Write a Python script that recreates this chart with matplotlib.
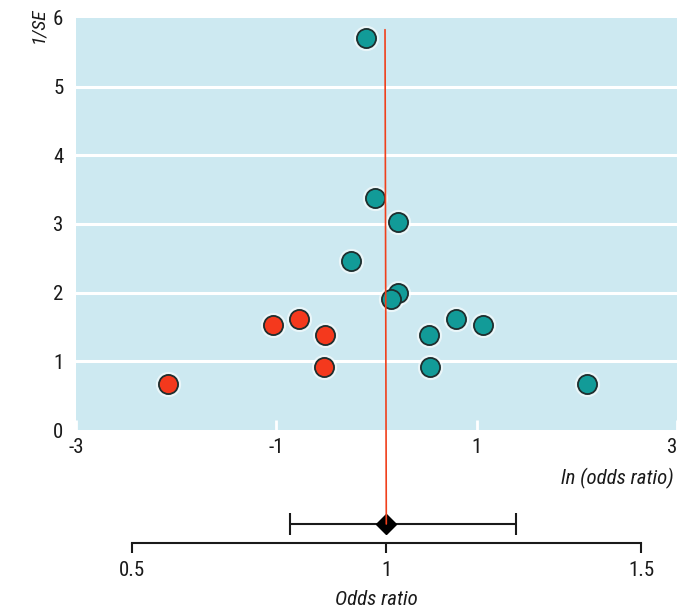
import numpy as np
import matplotlib
matplotlib.use('Agg')
import matplotlib.pyplot as plt
from matplotlib.patches import ConnectionPatch

plt.rcParams['font.family'] = ['Roboto Condensed', 'Liberation Sans Narrow', 'Roboto', 'DejaVu Sans']

#==========Funnel plot data (ln odds ratio vs 1/SE)==========
observed_ln = [-0.10, -0.01, 0.21, -0.25, 0.21, 0.14, 0.79, 1.06, 0.52, 0.53, 2.10]
observed_inv_se = [5.71, 3.38, 3.03, 2.46, 2.00, 1.91, 1.62, 1.53, 1.39, 0.92, 0.67]

filled_ln = [-2.08, -1.03, -0.77, -0.51, -0.52]
filled_inv_se = [0.67, 1.53, 1.62, 1.39, 0.92]

pooled_ln = 0.085
line_top = 5.83

#==========Pooled odds ratio with CI==========
pooled_or = 1.0
ci_low, ci_high = 0.81, 1.255

x_ticks = [-3, -1, 1, 3]
y_ticks = [0, 1, 2, 3, 4, 5, 6]
or_ticks = [0.5, 1, 1.5]

teal = '#129b98'
red = '#f4391d'
edge = '#1e2e2e'
panel = '#cde9f1'
ink = '#1a1a1a'

fig = plt.figure(figsize=(6.8, 6.12), dpi=100)

#==========Main funnel axes==========
ax = fig.add_axes([76 / 680, 1 - 430 / 612, 601 / 680, 412 / 612])
ax.set_facecolor(panel)
ax.set_xlim(-3, 3)
ax.set_ylim(0, 6)
for s in ax.spines.values():
    s.set_visible(False)
for y in y_ticks[1:-1]:
    ax.axhline(y, color='white', lw=2.2, zorder=1)

ax.scatter(observed_ln, observed_inv_se, s=330, color='white', alpha=0.6, lw=0, zorder=2)
ax.scatter(filled_ln, filled_inv_se, s=330, color='white', alpha=0.6, lw=0, zorder=2)
ax.scatter(observed_ln, observed_inv_se, s=190, color=teal, edgecolors=edge, lw=1.3, zorder=3)
ax.scatter(filled_ln, filled_inv_se, s=190, color=red, edgecolors=edge, lw=1.3, zorder=3)

ax.set_xticks(x_ticks)
ax.set_xticklabels(['-3', '-1', '1', '3'])
ax.set_yticks(y_ticks)
ax.tick_params(axis='x', direction='in', length=7, width=2, color='white', labelsize=15,
               pad=6, labelcolor=ink)
ax.tick_params(axis='y', length=0, labelsize=15, pad=9, labelcolor=ink)
ax.get_xticklabels()[-1].set_horizontalalignment('right')
ax.text(-0.063, 1.025, '1/SE', transform=ax.transAxes, rotation=90, ha='center', va='top',
        style='italic', fontsize=14, color=ink)
ax.text(0.995, -0.118, 'ln (odds ratio)', transform=ax.transAxes, ha='right', va='center',
        style='italic', fontsize=15, color=ink)

#==========Odds ratio axes==========
ax2 = fig.add_axes([76 / 680, 1 - 543 / 612, 601 / 680, 38 / 612])
or_left = 0.5 - (131.6 - 76) / 509.4
or_right = 1.5 + (677 - 641) / 509.4
ax2.set_xlim(or_left, or_right)
ax2.set_ylim(0, 1)
ax2.set_facecolor('none')
for side in ['top', 'left', 'right']:
    ax2.spines[side].set_visible(False)
ax2.spines['bottom'].set_bounds(or_ticks[0], or_ticks[-1])
ax2.spines['bottom'].set_linewidth(1.5)
ax2.spines['bottom'].set_color(ink)
ax2.set_yticks([])
ax2.set_xticks(or_ticks)
ax2.set_xticklabels(['0.5', '1', '1.5'])
ax2.tick_params(axis='x', direction='out', length=7, width=1.5, color=ink, labelsize=15,
                pad=6, labelcolor=ink)
ax2.errorbar([pooled_or], [0.5], xerr=[[pooled_or - ci_low], [ci_high - pooled_or]],
             fmt='none', ecolor=ink, elinewidth=1.5, capsize=8, capthick=1.5)
ax2.set_xlabel('Odds ratio', style='italic', fontsize=15, labelpad=7, color=ink)

#==========Red pooled line across both axes==========
con = ConnectionPatch(xyA=(pooled_ln, line_top), coordsA=ax.transData,
                      xyB=(pooled_or, 0.5), coordsB=ax2.transData,
                      color='#f0401c', lw=1.2, zorder=5)
fig.add_artist(con)
ax2.plot([pooled_or], [0.5], marker='D', ms=10, color='black', zorder=6)

fig.savefig('out.png', dpi=100)
